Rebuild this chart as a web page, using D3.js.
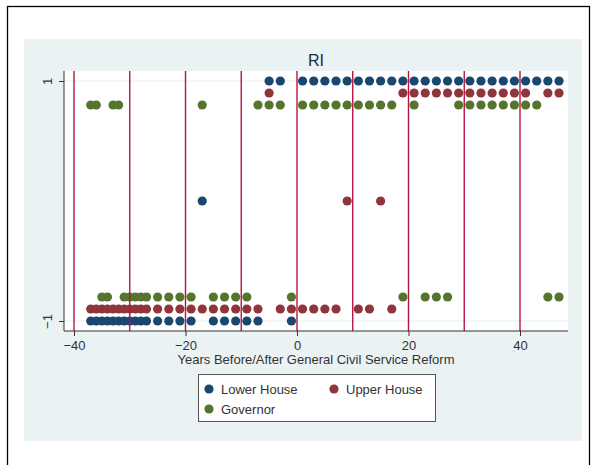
<!DOCTYPE html>
<html>
<head>
<meta charset="utf-8">
<script src="https://cdn.jsdelivr.net/npm/d3@7"></script>
<style>
  html, body { margin: 0; padding: 0; background: #ffffff; }
  svg { display: block; font-family: "Liberation Sans", Arial, sans-serif; }
</style>
</head>
<body>
<svg id="chart" width="594" height="465"></svg>
<script>
// Election-year outcomes relative to the general civil service reform (RI)
const lowerYears = [-37, -36, -35, -34, -33, -32, -31, -30, -29, -28, -27, -25, -23, -21, -19, -17, -15, -13, -11, -9, -7, -5, -3, -1,
  1, 3, 5, 7, 9, 11, 13, 15, 17, 19, 21, 23, 25, 27, 29, 31, 33, 35, 37, 39, 41, 43, 45, 47];
const lowerValues = [-1, -1, -1, -1, -1, -1, -1, -1, -1, -1, -1, -1, -1, -1, -1, 0, -1, -1, -1, -1, -1, 1, 1, -1,
  1, 1, 1, 1, 1, 1, 1, 1, 1, 1, 1, 1, 1, 1, 1, 1, 1, 1, 1, 1, 1, 1, 1, 1];

const upperYears = [-37, -36, -35, -34, -33, -32, -31, -30, -29, -28, -27, -25, -23, -21, -19, -17, -15, -13, -11, -9, -7, -5, -3, -1,
  1, 3, 5, 7, 9, 11, 13, 15, 17, 19, 21, 23, 25, 27, 29, 31, 33, 35, 37, 39, 41, 45, 47];
const upperValues = [-1, -1, -1, -1, -1, -1, -1, -1, -1, -1, -1, -1, -1, -1, -1, -1, -1, -1, -1, -1, -1, 1, -1, -1,
  -1, -1, -1, -1, 0, -1, -1, 0, -1, 1, 1, 1, 1, 1, 1, 1, 1, 1, 1, 1, 1, 1, 1];

const governorYears = [-37, -36, -35, -34, -33, -32, -31, -30, -29, -28, -27, -25, -23, -21, -19, -17, -15, -13, -11, -9, -7, -5, -3, -1,
  1, 3, 5, 7, 9, 11, 13, 15, 17, 19, 21, 23, 25, 27, 29, 31, 33, 35, 37, 39, 41, 43, 45, 47];
const governorValues = [1, 1, -1, -1, 1, 1, -1, -1, -1, -1, -1, -1, -1, -1, -1, 1, -1, -1, -1, -1, 1, 1, 1, -1,
  1, 1, 1, 1, 1, 1, 1, 1, 1, -1, 1, -1, -1, -1, 1, 1, 1, 1, 1, 1, 1, 1, -1, -1];

const seriesNames = ["Lower House", "Upper House", "Governor"];
const xTicks = [-40, -20, 0, 20, 40];
const yTicks = [-1, 1];
const referenceLines = [-40, -30, -20, -10, 0, 10, 20, 30, 40];
const chartTitle = "RI";
const xAxisTitle = "Years Before/After General Civil Service Reform";

// Drawing settings
const colors = ["#1a476f", "#90353b", "#55752f"];
const stagger = [1, 0.9, 0.8]; // vertical offset per series so rows do not overlap
const plot = { left: 64, right: 568, top: 71, bottom: 331 };
const font = "'Liberation Sans', Arial, sans-serif";

const svg = d3.select("#chart");

// Outer frame and graph region
svg.append("rect").attr("x", 7.5).attr("y", 6.5).attr("width", 582).attr("height", 470)
  .attr("fill", "#ffffff").attr("stroke", "#000000").attr("stroke-width", 1.3);
svg.append("rect").attr("x", 24).attr("y", 39).attr("width", 558).attr("height", 402)
  .attr("fill", "#eaf2f3");
svg.append("rect").attr("x", plot.left).attr("y", plot.top)
  .attr("width", plot.right - plot.left).attr("height", plot.bottom - plot.top)
  .attr("fill", "#ffffff");

const x = d3.scaleLinear().domain([-40, 40]).range([74, 520]);
const y = d3.scaleLinear().domain([-1, 1]).range([321, 81]);

// Grid lines at labelled y values
svg.append("g").selectAll("line").data(yTicks).join("line")
  .attr("x1", plot.left).attr("x2", plot.right)
  .attr("y1", d => y(d)).attr("y2", d => y(d))
  .attr("stroke", "#e6eef0").attr("stroke-width", 1);

// Points
const series = [
  { years: lowerYears, values: lowerValues },
  { years: upperYears, values: upperValues },
  { years: governorYears, values: governorValues }
];
series.forEach((s, i) => {
  svg.append("g").selectAll("circle")
    .data(s.years.map((yr, k) => ({ yr, v: s.values[k] })))
    .join("circle")
    .attr("cx", d => x(d.yr))
    .attr("cy", d => y(d.v * stagger[i]))
    .attr("r", 4.6)
    .attr("fill", colors[i]);
});

// Reference lines every ten years
svg.append("g").selectAll("line").data(referenceLines).join("line")
  .attr("x1", d => x(d)).attr("x2", d => x(d))
  .attr("y1", plot.top).attr("y2", plot.bottom)
  .attr("stroke", "#b5163f").attr("stroke-width", 1.4);

// Axes
const xAxis = d3.axisBottom(x).tickValues(xTicks).tickSize(5).tickPadding(5).tickFormat(d3.format("d"));
const gx = svg.append("g").attr("transform", `translate(0,${plot.bottom})`).call(xAxis);
gx.select(".domain").remove();
gx.append("line").attr("x1", plot.left).attr("x2", plot.right).attr("y1", 0).attr("y2", 0)
  .attr("stroke", "#333333").attr("stroke-width", 1);
gx.selectAll(".tick line").attr("stroke", "#333333");
gx.selectAll(".tick text").attr("fill", "#333333").attr("font-size", 13).attr("font-family", font);

const yAxis = d3.axisLeft(y).tickValues(yTicks).tickSize(5).tickPadding(6).tickFormat(d3.format("d"));
const gy = svg.append("g").attr("transform", `translate(${plot.left},0)`).call(yAxis);
gy.select(".domain").remove();
gy.append("line").attr("x1", 0).attr("x2", 0).attr("y1", plot.top).attr("y2", plot.bottom)
  .attr("stroke", "#333333").attr("stroke-width", 1);
gy.selectAll(".tick line").attr("stroke", "#333333");
gy.selectAll(".tick text")
  .attr("fill", "#333333").attr("font-size", 13).attr("font-family", font)
  .attr("x", null).attr("dy", null)
  .attr("text-anchor", "middle")
  .attr("transform", "translate(-12,0) rotate(-90)");

// Title and axis title
svg.append("text").attr("x", (plot.left + plot.right) / 2).attr("y", 66)
  .attr("text-anchor", "middle").attr("font-size", 16).attr("fill", "#1e2a3a")
  .text(chartTitle);
svg.append("text").attr("x", (plot.left + plot.right) / 2).attr("y", 364)
  .attr("text-anchor", "middle").attr("font-size", 13).attr("fill", "#333333")
  .text(xAxisTitle);

// Legend
const legend = svg.append("g");
legend.append("rect").attr("x", 198.5).attr("y", 374.5).attr("width", 237).attr("height", 47)
  .attr("fill", "#ffffff").attr("stroke", "#555555").attr("stroke-width", 1);
const legendPos = [[209, 389], [334, 389], [209, 409]];
seriesNames.forEach((name, i) => {
  const [lx, ly] = legendPos[i];
  legend.append("circle").attr("cx", lx).attr("cy", ly).attr("r", 4.6).attr("fill", colors[i]);
  legend.append("text").attr("x", lx + 12).attr("y", ly + 4.5)
    .attr("font-size", 13).attr("fill", "#333333").text(name);
});
</script>
</body>
</html>
